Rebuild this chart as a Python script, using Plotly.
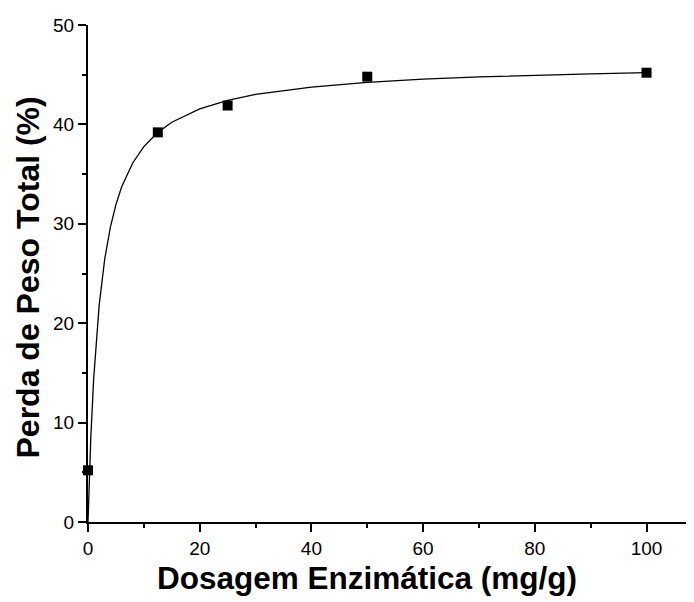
import plotly.graph_objects as go

# Measured data points
dose = [0, 12.5, 25, 50, 100]
loss = [5.2, 39.2, 41.9, 44.8, 45.2]

# Fitted curve
fit_x = [0, 0.25, 0.5, 1, 1.5, 2, 3, 4, 5, 6, 8, 10, 12.5, 15, 20, 25, 30, 40, 50, 60, 70, 80, 90, 100]
fit_y = [0, 4.65, 8.45, 14.28, 18.56, 21.82, 26.48, 29.65, 31.93, 33.67, 36.12, 37.77, 39.20, 40.22,
         41.56, 42.42, 43.01, 43.76, 44.23, 44.55, 44.78, 44.95, 45.09, 45.20]

x_ticks = [0, 20, 40, 60, 80, 100]
y_ticks = [0, 10, 20, 30, 40, 50]

FONT = "Liberation Sans, Arial, sans-serif"

fig = go.Figure()
fig.add_trace(go.Scatter(x=fit_x, y=fit_y, mode="lines",
                         line=dict(color="black", width=1.3), showlegend=False,
                         cliponaxis=False))
fig.add_trace(go.Scatter(x=dose, y=loss, mode="markers",
                         marker=dict(symbol="square", size=10, color="black"),
                         showlegend=False, cliponaxis=False))

fig.update_layout(
    width=694, height=602,
    margin=dict(l=80, r=8, t=17, b=88),
    paper_bgcolor="white", plot_bgcolor="white",
    font=dict(family=FONT, color="black", size=19),
    xaxis=dict(range=[0, 108.5], tickvals=x_ticks, ticktext=[str(v) for v in x_ticks],
               showgrid=False, zeroline=False, showline=True, linecolor="black", linewidth=2,
               ticks="outside", ticklen=8, tickwidth=2, tickcolor="black",
               tickfont=dict(size=19, family=FONT),
               minor=dict(dtick=10, ticks="outside", ticklen=4, tickwidth=1.5, tickcolor="black")),
    yaxis=dict(range=[0, 50], tickvals=y_ticks, ticktext=[str(v) for v in y_ticks],
               showgrid=False, zeroline=False, showline=True, linecolor="black", linewidth=2,
               ticks="outside", ticklen=8, tickwidth=2, tickcolor="black",
               tickfont=dict(size=19, family=FONT),
               minor=dict(dtick=5, ticks="outside", ticklen=4, tickwidth=1.5, tickcolor="black")),
    annotations=[
        dict(text="<b>Dosagem Enzimática (mg/g)</b>", xref="x", yref="paper",
             x=50, y=0, yshift=-56, showarrow=False, yanchor="middle",
             font=dict(size=31.5, family=FONT)),
        dict(text="<b>Perda de Peso Total (%)</b>", xref="paper", yref="y",
             x=0, y=24.6, xshift=-60, showarrow=False, textangle=-90, xanchor="center",
             font=dict(size=32, family=FONT)),
    ],
)

fig.write_html("out.html")
